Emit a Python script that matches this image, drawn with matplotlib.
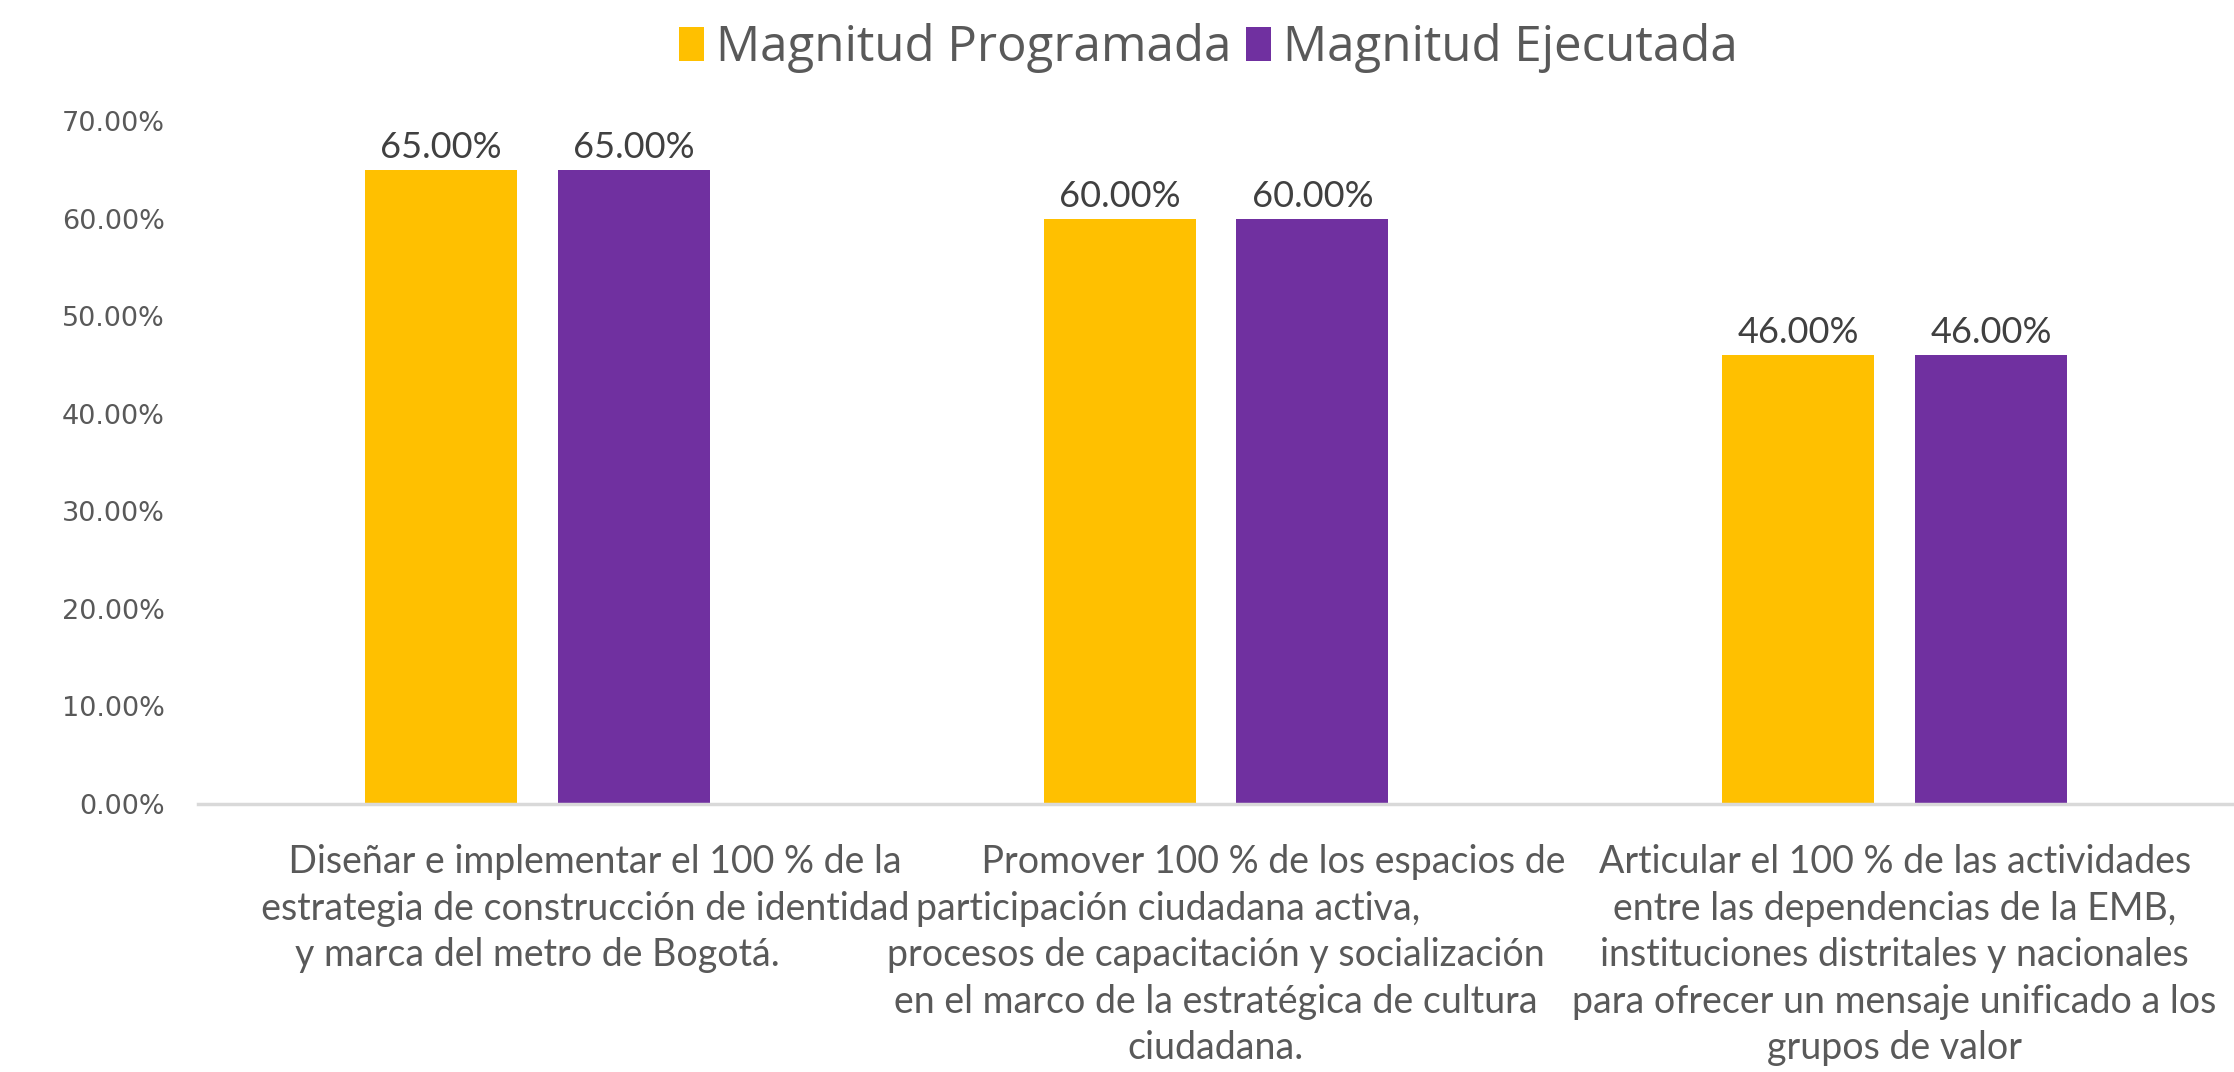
import matplotlib.pyplot as plt
import numpy as np

categories = [
    "            Diseñar e implementar el 100 % de la\n          estrategia de construcción de identidad\ny marca del metro de Bogotá.",
    "            Promover 100 % de los espacios de\nparticipación ciudadana activa,          \nprocesos de capacitación y socialización\nen el marco de la estratégica de cultura\nciudadana.",
    "Articular el 100 % de las actividades\nentre las dependencias de la EMB,\ninstituciones distritales y nacionales\npara ofrecer un mensaje unificado a los\ngrupos de valor",
]
programada = [0.65, 0.60, 0.46]
ejecutada = [0.65, 0.60, 0.46]
y_ticks = [0.0, 0.1, 0.2, 0.3, 0.4, 0.5, 0.6, 0.7]

fig = plt.figure(figsize=(22.34, 10.72), dpi=100)
ax = fig.add_axes([0.0886, 0.25, 0.9114, 0.637])

x = np.arange(len(categories))
w = 0.224
off = 0.142
b1 = ax.bar(x - off, programada, w, color='#FFC000', label='Magnitud Programada')
b2 = ax.bar(x + off, ejecutada, w, color='#7030A0', label='Magnitud Ejecutada')

for bars in (b1, b2):
    for b in bars:
        ax.text(b.get_x() + b.get_width() / 2, b.get_height() + 0.006,
                f'{b.get_height() * 100:.2f}%', ha='center', va='bottom',
                fontsize=26, color='#404040', family='Lato')

ax.set_xlim(-0.5, 2.5)
ax.set_ylim(0, 0.7)
ax.set_yticks(y_ticks)
ax.set_yticklabels([f'{v * 100:.2f}%' for v in y_ticks], fontsize=19.5, color='#595959')
ax.set_xticks(x)
ax.set_xticklabels(categories, fontsize=27, color='#595959', family='Lato',
                   linespacing=1.36)
ax.tick_params(axis='y', length=0, pad=24)
ax.tick_params(axis='x', length=0, pad=29)
for s in ['top', 'right', 'left']:
    ax.spines[s].set_visible(False)
ax.spines['bottom'].set_color('#d9d9d9')
ax.spines['bottom'].set_linewidth(2.5)

fig.legend(loc='center', bbox_to_anchor=(0.541, 0.955), ncol=2, frameon=False,
           prop={'family': 'Open Sans', 'size': 35.5}, labelcolor='#595959',
           handlelength=0.5, handleheight=0.7, handletextpad=0.25, columnspacing=0.3)

fig.savefig('out.png', dpi=100)
